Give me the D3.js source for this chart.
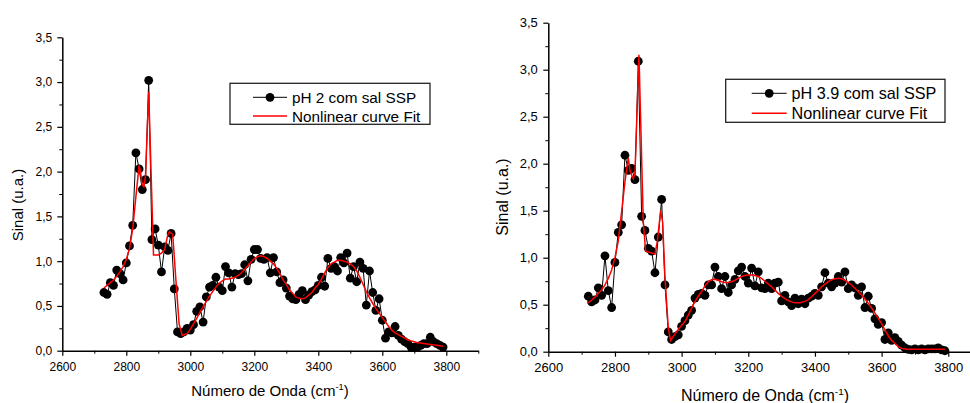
<!DOCTYPE html>
<html><head><meta charset="utf-8">
<script src="https://cdn.jsdelivr.net/npm/d3@7"></script>
<style>
body{margin:0;background:#fff;}
svg{display:block;font-family:"Liberation Sans",Arial,sans-serif;}
</style></head>
<body>
<svg id="c" width="970" height="403"></svg>
<script>
// ---------- DATA ----------
const leftWavenumbers = [2730,2740,2750,2760,2770,2780,2790,2800,2810,2820,2830,2840,2850,2860,2870,2880,2890,2900,2910,2920,2930,2940,2950,2960,2970,2980,2990,3000,3010,3020,3030,3040,3050,3060,3070,3080,3090,3100,3110,3120,3130,3140,3150,3160,3170,3180,3190,3200,3210,3220,3230,3240,3250,3260,3270,3280,3290,3300,3310,3320,3330,3340,3350,3360,3370,3380,3390,3400,3410,3420,3430,3440,3450,3460,3470,3480,3490,3500,3510,3520,3530,3540,3550,3560,3570,3580,3590,3600,3610,3620,3630,3640,3650,3660,3670,3680,3690,3700,3710,3720,3730,3740,3750,3760,3770,3780,3790];
const leftSignal = [0.65,0.63,0.76,0.73,0.90,0.86,0.79,0.98,1.17,1.40,2.21,2.03,1.80,1.91,3.02,1.24,1.36,1.18,0.88,1.16,1.12,1.31,0.69,0.21,0.19,0.21,0.25,0.23,0.29,0.44,0.49,0.32,0.60,0.71,0.73,0.82,0.71,0.67,0.94,0.87,0.71,0.86,0.85,0.86,0.96,0.78,1.02,1.13,1.13,1.03,1.02,1.04,0.87,1.04,0.88,0.76,0.79,0.70,0.61,0.58,0.57,0.63,0.67,0.57,0.62,0.66,0.68,0.73,0.82,0.72,1.03,0.92,0.94,0.89,1.04,0.98,1.09,0.81,0.94,0.77,0.99,0.92,0.51,0.89,0.65,0.45,0.58,0.34,0.14,0.21,0.20,0.27,0.17,0.13,0.10,0.08,0.04,0.04,0.04,0.06,0.08,0.08,0.15,0.10,0.08,0.06,0.04];
const leftFitX = [2730,2740,2750,2760,2770,2780,2790,2800,2810,2820,2830,2840,2845,2850,2855,2860,2870,2885,2900,2910,2920,2930,2935,2945,2955,2965,2975,2990,3000,3010,3020,3030,3040,3050,3060,3070,3080,3090,3100,3110,3120,3130,3140,3150,3160,3170,3180,3190,3200,3210,3220,3230,3240,3250,3260,3270,3280,3290,3300,3310,3320,3330,3340,3350,3360,3370,3380,3390,3400,3410,3420,3430,3440,3450,3460,3470,3480,3490,3500,3510,3520,3530,3540,3550,3560,3570,3580,3590,3600,3610,3620,3630,3640,3650,3660,3670,3680,3690,3700,3710,3720,3730,3740,3750,3760,3770,3780,3790];
const leftFitY = [0.70,0.73,0.76,0.79,0.83,0.88,0.94,1.02,1.14,1.36,1.72,2.07,1.98,1.85,1.83,1.95,2.89,1.07,1.07,1.09,1.13,1.30,1.33,1.30,0.79,0.30,0.17,0.19,0.24,0.30,0.36,0.43,0.49,0.55,0.61,0.66,0.71,0.75,0.78,0.80,0.80,0.81,0.82,0.84,0.87,0.91,0.95,0.99,1.03,1.05,1.06,1.05,1.03,1.00,0.97,0.92,0.86,0.79,0.74,0.68,0.64,0.60,0.585,0.58,0.59,0.62,0.65,0.70,0.74,0.80,0.87,0.93,0.97,0.99,1.01,1.01,1.00,0.99,0.97,0.94,0.89,0.82,0.74,0.66,0.59,0.53,0.47,0.42,0.37,0.32,0.27,0.23,0.20,0.18,0.16,0.14,0.12,0.11,0.10,0.09,0.085,0.08,0.075,0.07,0.065,0.06,0.055,0.05];

const rightWavenumbers = [2720,2730,2740,2750,2760,2770,2780,2790,2800,2810,2820,2830,2840,2850,2860,2870,2880,2890,2900,2910,2920,2930,2940,2950,2960,2970,2980,2990,3000,3010,3020,3030,3040,3050,3060,3070,3080,3090,3100,3110,3120,3130,3140,3150,3160,3170,3180,3190,3200,3210,3220,3230,3240,3250,3260,3270,3280,3290,3300,3310,3320,3330,3340,3350,3360,3370,3380,3390,3400,3410,3420,3430,3440,3450,3460,3470,3480,3490,3500,3510,3520,3530,3540,3550,3560,3570,3580,3590,3600,3610,3620,3630,3640,3650,3660,3670,3680,3690,3700,3710,3720,3730,3740,3750,3760,3770,3780,3790];
const rightSignal = [0.59,0.53,0.55,0.68,0.60,1.02,0.65,0.47,0.95,1.27,1.35,2.09,1.93,1.95,1.83,3.09,1.44,1.29,1.10,1.07,0.84,1.22,1.62,0.71,0.21,0.13,0.16,0.18,0.27,0.33,0.39,0.44,0.57,0.61,0.62,0.60,0.71,0.71,0.90,0.80,0.67,0.80,0.63,0.71,0.77,0.86,0.90,0.80,0.73,0.89,0.70,0.85,0.68,0.67,0.73,0.67,0.73,0.74,0.54,0.60,0.53,0.49,0.57,0.51,0.56,0.51,0.57,0.59,0.62,0.60,0.69,0.84,0.73,0.69,0.73,0.80,0.74,0.85,0.67,0.71,0.68,0.60,0.69,0.47,0.59,0.46,0.35,0.29,0.31,0.13,0.20,0.12,0.15,0.11,0.07,0.04,0.025,0.02,0.03,0.02,0.03,0.02,0.03,0.03,0.03,0.04,0.02,0.01];
const rightFitX = [2720,2730,2740,2750,2760,2770,2780,2790,2800,2810,2820,2830,2840,2845,2850,2855,2860,2872,2885,2892,2900,2910,2920,2927,2937,2943,2950,2960,2967,2980,2995,3010,3020,3035,3050,3060,3070,3080,3090,3100,3110,3120,3130,3140,3150,3160,3170,3180,3190,3200,3215,3230,3240,3250,3260,3270,3280,3290,3300,3310,3320,3330,3340,3355,3370,3380,3390,3400,3410,3420,3430,3440,3450,3460,3470,3480,3490,3500,3510,3520,3530,3540,3550,3560,3570,3580,3590,3600,3610,3620,3630,3640,3650,3660,3675,3790];
const rightFitY = [0.52,0.55,0.58,0.62,0.66,0.71,0.78,0.87,1.00,1.18,1.49,1.81,2.06,1.93,1.88,1.84,1.90,3.16,1.38,1.07,1.06,1.05,1.04,1.17,1.50,1.38,0.80,0.25,0.12,0.19,0.26,0.32,0.39,0.50,0.59,0.64,0.70,0.745,0.765,0.77,0.76,0.745,0.735,0.735,0.745,0.76,0.78,0.80,0.81,0.815,0.815,0.80,0.78,0.75,0.72,0.69,0.655,0.62,0.59,0.565,0.545,0.53,0.52,0.52,0.535,0.555,0.585,0.62,0.65,0.69,0.72,0.745,0.765,0.775,0.78,0.775,0.76,0.735,0.71,0.675,0.64,0.60,0.56,0.515,0.465,0.41,0.355,0.30,0.23,0.17,0.12,0.09,0.055,0.035,0.025,0.025];

const xMajorTicks = [2600,2800,3000,3200,3400,3600,3800];
const xMinorTicks = [2700,2900,3100,3300,3500,3700,3900];
const yMajorTicks = [0,0.5,1.0,1.5,2.0,2.5,3.0,3.5];
const yMinorTicks = [0.25,0.75,1.25,1.75,2.25,2.75,3.25];
const xDomain = [2600,3900];
const yDomain = [0,3.5];
const legendLabels = ["pH 2 com sal SSP","pH 3.9 com sal SSP"];
const fitLabel = "Nonlinear curve Fit";
const yTitle = "Sinal (u.a.)";

// ---------- DRAW ----------
const svg = d3.select("#c");
const fmt = v => d3.format(".1f")(v).replace(".", ",");

function panel(cfg){
  const x = d3.scaleLinear().domain(xDomain).range([cfg.x0, cfg.x1]);
  const y = d3.scaleLinear().domain(yDomain).range([cfg.y0, cfg.y1]);
  const g = svg.append("g");

  g.append("g").attr("transform",`translate(0,${cfg.y0})`)
    .call(d3.axisBottom(x).tickValues(xMinorTicks).tickSize(3).tickFormat(""))
    .call(a=>a.select(".domain").remove());
  g.append("g").attr("transform",`translate(${cfg.x0},0)`)
    .call(d3.axisLeft(y).tickValues(yMinorTicks).tickSize(3).tickFormat(""))
    .call(a=>a.select(".domain").remove());

  const xa = g.append("g").attr("transform",`translate(0,${cfg.y0})`)
    .call(d3.axisBottom(x).tickValues(xMajorTicks).tickSize(5).tickPadding(cfg.xpad).tickSizeOuter(0).tickFormat(d3.format("d")));
  const ya = g.append("g").attr("transform",`translate(${cfg.x0},0)`)
    .call(d3.axisLeft(y).tickValues(yMajorTicks).tickSize(5).tickPadding(cfg.ypad).tickSizeOuter(0).tickFormat(fmt));
  [xa,ya].forEach(a=>{
    a.selectAll("text").attr("font-size",cfg.tick).attr("fill","#000").attr("font-family","Liberation Sans, Arial, sans-serif");
    a.select(".domain").attr("stroke-width",1.5);
    a.selectAll(".tick line").attr("stroke-width",1.2);
  });
  g.selectAll(".tick line").attr("stroke","#000");

  const pts = cfg.xs.map((d,i)=>[d, cfg.ys[i]]);
  const line = d3.line().x(d=>x(d[0])).y(d=>y(d[1]));
  g.append("path").datum(pts).attr("d",line).attr("fill","none").attr("stroke","#000").attr("stroke-width",1);
  g.selectAll("circle.p").data(pts).join("circle").attr("class","p")
    .attr("cx",d=>x(d[0])).attr("cy",d=>y(d[1])).attr("r",4.4).attr("fill","#000");
  const fit = cfg.fx.map((d,i)=>[d, cfg.fy[i]]);
  g.append("path").datum(fit).attr("d",line).attr("fill","none").attr("stroke","#ff0000").attr("stroke-width",1.5);

  g.append("text").attr("transform",`translate(${cfg.ylx},${cfg.yly}) rotate(-90)`)
    .attr("text-anchor","middle").attr("font-size",cfg.title).text(yTitle);
  const t = g.append("text").attr("x",cfg.xtx).attr("y",cfg.xty).attr("text-anchor","middle").attr("font-size",cfg.title);
  t.append("tspan").text("Número de Onda (cm");
  t.append("tspan").attr("dy",-6).attr("font-size",cfg.title*0.62).text("-1");
  t.append("tspan").attr("dy",6).text(")");

  const L = cfg.leg;
  g.append("rect").attr("x",L.x).attr("y",L.y).attr("width",L.w).attr("height",L.h)
    .attr("fill","#fff").attr("stroke","#222").attr("stroke-width",1.3);
  g.append("line").attr("x1",L.lx0).attr("x2",L.lx1).attr("y1",L.r1).attr("y2",L.r1).attr("stroke","#000").attr("stroke-width",1);
  g.append("circle").attr("cx",(L.lx0+L.lx1)/2).attr("cy",L.r1).attr("r",4.4).attr("fill","#000");
  g.append("line").attr("x1",L.lx0).attr("x2",L.lx1).attr("y1",L.r2).attr("y2",L.r2).attr("stroke","#ff0000").attr("stroke-width",1.5);
  g.append("text").attr("x",L.tx).attr("y",L.r1).attr("dy","0.36em").attr("font-size",L.fs).text(cfg.label);
  g.append("text").attr("x",L.tx).attr("y",L.r2).attr("dy","0.36em").attr("font-size",L.fs).text(fitLabel);
}

panel({x0:62.3, x1:478.3, y0:350.7, y1:37.3, tick:12, title:15, xpad:7, ypad:5,
  xs:leftWavenumbers, ys:leftSignal, fx:leftFitX, fy:leftFitY, label:legendLabels[0],
  ylx:23, yly:205, xtx:270, xty:396,
  leg:{x:230, y:83.3, w:200, h:41, lx0:253, lx1:287, tx:292, r1:97.3, r2:116, fs:15.3}});
panel({x0:548.3, x1:981.6, y0:351.7, y1:22.7, tick:13, title:16, xpad:6.5, ypad:5.5,
  xs:rightWavenumbers, ys:rightSignal, fx:rightFitX, fy:rightFitY, label:legendLabels[1],
  ylx:508, yly:197, xtx:765, xty:401,
  leg:{x:725.7, y:79.3, w:219.3, h:43, lx0:751.7, lx1:786.7, tx:791.5, r1:93.3, r2:113.3, fs:16.2}});
</script>
</body></html>
